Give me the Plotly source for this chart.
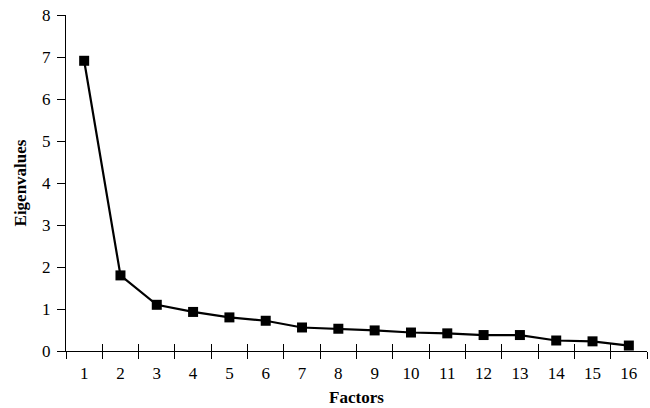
import plotly.graph_objects as go

factors = list(range(1, 17))
eigenvalues = [6.91, 1.80, 1.10, 0.93, 0.80, 0.72, 0.56, 0.53, 0.49, 0.44, 0.42, 0.38, 0.38, 0.25, 0.23, 0.13]
x_tick_labels = [str(f) for f in factors]
y_ticks = [0, 1, 2, 3, 4, 5, 6, 7, 8]
boundaries = [f - 0.5 for f in factors] + [factors[-1] + 0.5]

font_family = "Liberation Serif"

fig = go.Figure()
fig.add_trace(go.Scatter(
    x=factors, y=eigenvalues, mode="lines+markers",
    line=dict(color="black", width=2.2),
    marker=dict(symbol="square", size=10, color="black"),
    showlegend=False, cliponaxis=False,
))
fig.add_trace(go.Scatter(x=[boundaries[0], boundaries[-1]], y=[0, 0], xaxis="x2", mode="lines",
                         line=dict(width=0), showlegend=False, hoverinfo="skip"))
fig.add_trace(go.Scatter(x=[boundaries[0], boundaries[-1]], y=[0, 0], xaxis="x3", mode="lines",
                         line=dict(width=0), showlegend=False, hoverinfo="skip"))

xr = [boundaries[0], boundaries[-1]]
fig.update_layout(
    width=650, height=408,
    margin=dict(l=66, r=3, t=15, b=57),
    plot_bgcolor="white", paper_bgcolor="white",
    font=dict(family=font_family, size=17, color="black"),
    xaxis=dict(
        range=xr, tickmode="array", tickvals=factors, ticktext=x_tick_labels,
        ticks="outside", ticklen=6, tickcolor="rgba(0,0,0,0)",
        tickfont=dict(size=17),
        showline=True, linecolor="black", linewidth=1.3, showgrid=False, zeroline=False,
        automargin=False,
        title=dict(text="<b>Factors</b>", font=dict(size=17), standoff=9),
    ),
    xaxis2=dict(
        overlaying="x", anchor="y", side="bottom", range=xr,
        tickmode="array", tickvals=boundaries, ticktext=[""] * len(boundaries),
        ticks="outside", ticklen=7, tickwidth=1.3, tickcolor="black",
        showline=False, showgrid=False, zeroline=False, showticklabels=False, automargin=False,
    ),
    xaxis3=dict(
        overlaying="x", anchor="y", side="bottom", range=xr,
        tickmode="array", tickvals=boundaries, ticktext=[""] * len(boundaries),
        ticks="inside", ticklen=7, tickwidth=1.3, tickcolor="black",
        showline=False, showgrid=False, zeroline=False, showticklabels=False, automargin=False,
    ),
    yaxis=dict(
        range=[0, 8], tickmode="array", tickvals=y_ticks,
        ticks="outside", ticklen=8, tickwidth=1.3, tickcolor="black",
        tickfont=dict(size=17), ticklabelstandoff=3,
        showline=True, linecolor="black", linewidth=1.3, showgrid=False, zeroline=False,
        automargin=False,
        title=dict(text="<b>Eigenvalues</b>", font=dict(size=17), standoff=11),
    ),
)

# remove the default page margin so the figure fills the 650x408 window exactly
fig.write_html("out.html", config={"displayModeBar": False},
               post_script="document.body.style.margin='0';")
